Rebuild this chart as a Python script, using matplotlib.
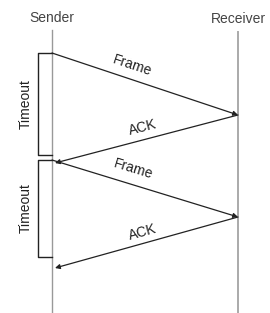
import numpy as np
import matplotlib.pyplot as plt

# Lifelines (pixel coordinates of the drawing)
names = ['Sender', 'Receiver']
lifeline_x = [52, 238]

# Messages: label, start (x, y), end (x, y)
msg_labels = ['Frame', 'ACK', 'Frame', 'ACK']
msg_x0 = [52, 238, 52, 238]
msg_y0 = [53, 115, 160, 217]
msg_x1 = [238, 55, 238, 55]
msg_y1 = [115, 163, 217, 268]
label_x = [132, 143, 133, 143]
label_y = [66, 128, 169, 232]

# Timeout boxes (top, bottom)
timeout_top = [53, 160]
timeout_bottom = [155, 257]

plt.rcParams['font.family'] = ['Liberation Sans', 'DejaVu Sans']
FS = 10

fig = plt.figure(figsize=(2.70, 3.13), dpi=100)
ax = fig.add_axes([0, 0, 1, 1])
ax.set_xlim(0, 270)
ax.set_ylim(313, 0)
ax.axis('off')

# lifelines and names
ax.text(lifeline_x[0], 18, names[0], ha='center', va='center', fontsize=FS, color='#444444')
ax.text(lifeline_x[1], 19, names[1], ha='center', va='center', fontsize=FS, color='#444444')
ax.plot([lifeline_x[0]] * 2, [30, 313], color='#999999', lw=1)
ax.plot([lifeline_x[1]] * 2, [32, 313], color='#aaaaaa', lw=1.4)

# timeout boxes
for t, b in zip(timeout_top, timeout_bottom):
    ax.plot([lifeline_x[0], 38, 38, lifeline_x[0]], [t, t, b, b], color='#222222', lw=1)
    ax.text(26, (t + b) / 2, 'Timeout', rotation=90, ha='center', va='center',
            fontsize=FS, color='#222222')

# messages
for lab, x0, y0, x1, y1, lx, ly in zip(msg_labels, msg_x0, msg_y0, msg_x1, msg_y1, label_x, label_y):
    ax.annotate('', xy=(x1, y1), xytext=(x0, y0),
                arrowprops=dict(arrowstyle='-|>', color='#222222', lw=0.9,
                                mutation_scale=7, shrinkA=0, shrinkB=0))
    p0 = ax.transData.transform((x0, y0))
    p1 = ax.transData.transform((x1, y1))
    ang = np.degrees(np.arctan2(p1[1] - p0[1], p1[0] - p0[0]))
    if ang > 90:
        ang -= 180
    if ang < -90:
        ang += 180
    ax.text(lx, ly, lab, rotation=ang, ha='center', va='center',
            fontsize=FS, color='#222222', rotation_mode='anchor')

fig.savefig('out.png', dpi=100)
